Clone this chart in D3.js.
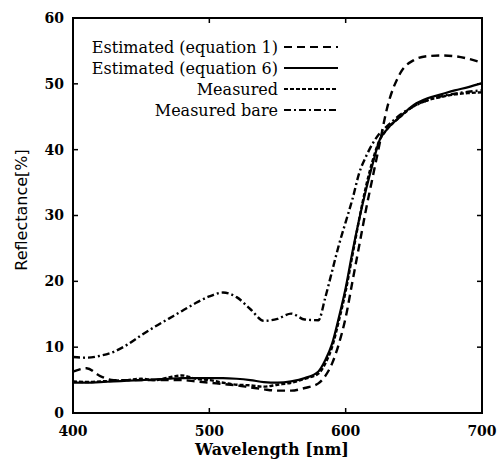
<!DOCTYPE html>
<html>
<head>
<meta charset="utf-8">
<script src="https://cdn.jsdelivr.net/npm/d3@7"></script>
<style>
  body { margin: 0; background: #fff; }
  svg { display: block; }
</style>
</head>
<body>
<div id="chart"></div>
<script>
// wavelengths (nm) shared by all curves
const wavelengths = [400, 410, 420, 430, 440, 450, 460, 470, 480, 490, 500, 510, 520, 530, 540, 550, 560, 570, 580, 585, 590, 595, 600, 605, 610, 615, 620, 625, 630, 640, 650, 660, 670, 680, 690, 700];

const estimatedEq1 = [6.3, 6.8, 5.6, 5.0, 5.0, 5.0, 5.0, 5.0, 5.0, 4.8, 4.6, 4.4, 4.2, 3.9, 3.6, 3.4, 3.4, 3.8, 4.5, 5.6, 7.5, 10.5, 14.5, 20, 25.5, 31, 36, 41, 46, 51.6, 53.6, 54.2, 54.3, 54.2, 53.8, 53.2];
const estimatedEq6 = [4.6, 4.6, 4.7, 4.8, 4.9, 5.0, 5.1, 5.2, 5.3, 5.3, 5.3, 5.3, 5.2, 5.0, 4.7, 4.6, 4.8, 5.3, 6.3, 8, 10.5, 14.5, 19, 24.5, 29.5, 34, 38, 41.5, 43, 45, 46.8, 47.8, 48.4, 49, 49.5, 50.1];
const measured = [4.8, 4.7, 4.8, 4.9, 5.0, 5.2, 5.0, 5.4, 5.7, 5.2, 5.0, 4.6, 4.3, 4.2, 4.0, 4.3, 4.6, 5.2, 6.0, 7.5, 10, 14, 18.5, 24, 29.5, 34.5, 38.5, 41.5, 43, 45, 46.6, 47.5, 48, 48.4, 48.6, 48.7];
const measuredBare = [8.5, 8.4, 8.7, 9.3, 10.4, 11.8, 13.1, 14.3, 15.5, 16.7, 17.7, 18.3, 17.6, 15.8, 14.0, 14.3, 15.1, 14.2, 14.1, 17.5, 21.5, 25.5, 29, 32.5, 36.5, 39, 41, 42.5, 43.5, 45.3, 46.6, 47.5, 48.1, 48.5, 48.8, 49];

const seriesNames = ["Estimated (equation 1)", "Estimated (equation 6)", "Measured", "Measured bare"];
const seriesValues = [estimatedEq1, estimatedEq6, measured, measuredBare];
const dashStyles = ["8,5", null, "4,2", "7,3,2,3"];

const xTicks = [400, 500, 600, 700];
const yTicks = [0, 10, 20, 30, 40, 50, 60];

const width = 500, height = 461;
const margin = {top: 18, right: 18, bottom: 48, left: 73};

const svg = d3.select("#chart").append("svg")
    .attr("width", width)
    .attr("height", height);

const x = d3.scaleLinear().domain([400, 700]).range([margin.left, width - margin.right]);
const y = d3.scaleLinear().domain([0, 60]).range([height - margin.bottom, margin.top]);

// frame
svg.append("rect")
    .attr("x", x(400))
    .attr("y", y(60))
    .attr("width", x(700) - x(400))
    .attr("height", y(0) - y(60))
    .attr("fill", "none")
    .attr("stroke", "#000")
    .attr("stroke-width", 2);

// inward ticks on all four sides
const tickLen = 5;
svg.append("g").selectAll("line").data(xTicks.slice(1, -1)).enter().append("line")
    .attr("x1", d => x(d)).attr("x2", d => x(d))
    .attr("y1", y(0)).attr("y2", y(0) - tickLen)
    .attr("stroke", "#000").attr("stroke-width", 1.5);
svg.append("g").selectAll("line").data(xTicks.slice(1, -1)).enter().append("line")
    .attr("x1", d => x(d)).attr("x2", d => x(d))
    .attr("y1", y(60)).attr("y2", y(60) + tickLen)
    .attr("stroke", "#000").attr("stroke-width", 1.5);
svg.append("g").selectAll("line").data(yTicks.slice(1, -1)).enter().append("line")
    .attr("x1", x(400)).attr("x2", x(400) + tickLen)
    .attr("y1", d => y(d)).attr("y2", d => y(d))
    .attr("stroke", "#000").attr("stroke-width", 1.5);
svg.append("g").selectAll("line").data(yTicks.slice(1, -1)).enter().append("line")
    .attr("x1", x(700)).attr("x2", x(700) - tickLen)
    .attr("y1", d => y(d)).attr("y2", d => y(d))
    .attr("stroke", "#000").attr("stroke-width", 1.5);

// tick labels
svg.append("g").selectAll("text").data(xTicks).enter().append("text")
    .attr("x", d => x(d))
    .attr("y", y(0) + 23)
    .attr("text-anchor", "middle")
    .style("font", "bold 14px 'DejaVu Serif'")
    .text(d => d);
svg.append("g").selectAll("text").data(yTicks).enter().append("text")
    .attr("x", x(400) - 9)
    .attr("y", d => y(d))
    .attr("dy", "0.35em")
    .attr("text-anchor", "end")
    .style("font", "bold 14px 'DejaVu Serif'")
    .text(d => d);

// axis titles
svg.append("text")
    .attr("x", 272)
    .attr("y", 455)
    .attr("text-anchor", "middle")
    .style("font", "bold 16px 'DejaVu Serif'")
    .text("Wavelength [nm]");
svg.append("text")
    .attr("transform", "translate(27," + 210 + ") rotate(-90)")
    .attr("text-anchor", "middle")
    .style("font", "16px 'DejaVu Sans'")
    .style("font-weight", 500)
    .text("Reflectance[%]");

// curves
const line = d3.line()
    .x(d => x(d[0]))
    .y(d => y(d[1]))
    .curve(d3.curveMonotoneX);

const plot = svg.append("g");
seriesValues.forEach(function (vals, i) {
    plot.append("path")
        .datum(wavelengths.map((w, j) => [w, vals[j]]))
        .attr("d", line)
        .attr("fill", "none")
        .attr("stroke", "#000")
        .attr("stroke-width", i === 1 ? 2.2 : 2.4)
        .attr("stroke-dasharray", dashStyles[i]);
});

// legend
const legendRowY = [47, 68, 89, 110];
const legend = svg.append("g");
seriesNames.forEach(function (name, i) {
    legend.append("text")
        .attr("x", 278)
        .attr("y", legendRowY[i])
        .attr("dy", "0.35em")
        .attr("text-anchor", "end")
        .style("font", "16px 'DejaVu Serif'")
        .text(name);
    legend.append("line")
        .attr("x1", 284).attr("x2", 338)
        .attr("y1", legendRowY[i]).attr("y2", legendRowY[i])
        .attr("stroke", "#000")
        .attr("stroke-width", 2)
        .attr("stroke-dasharray", dashStyles[i]);
});
</script>
</body>
</html>
